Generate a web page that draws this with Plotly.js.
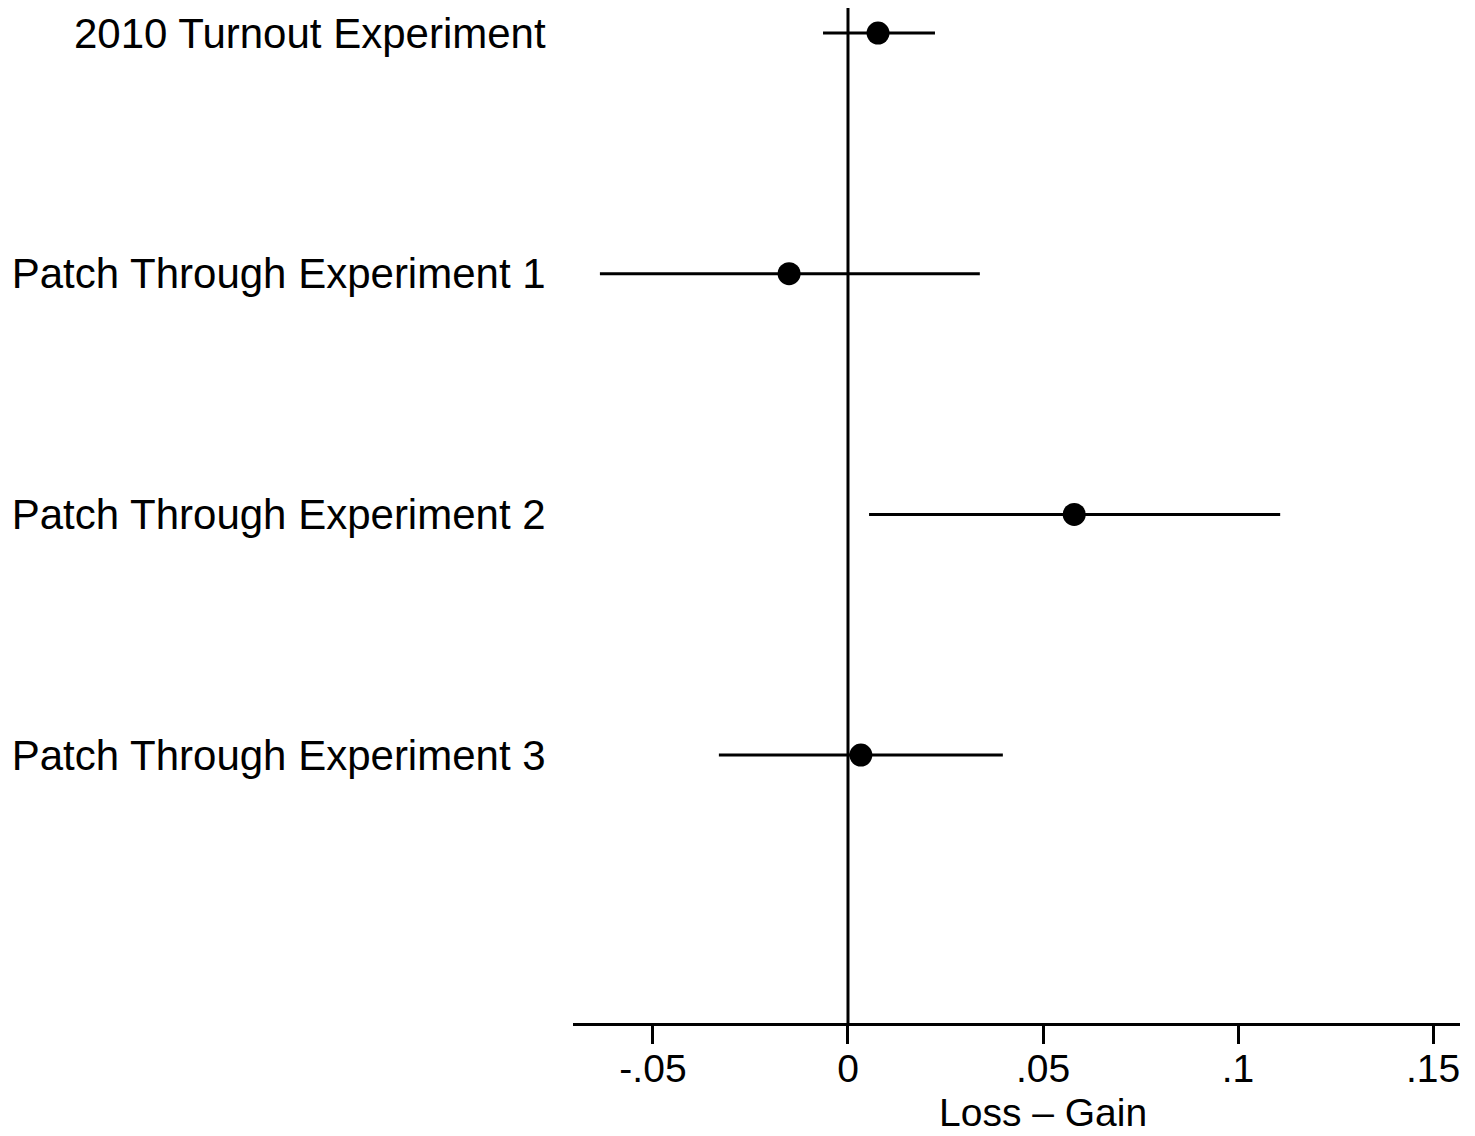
<!DOCTYPE html>
<html>
<head>
<meta charset="utf-8">
<script src="https://cdn.plot.ly/plotly-3.0.1.min.js"></script>
<style>html,body{margin:0;padding:0;background:#fff;}#chart{width:1475px;height:1136px;}</style>
</head>
<body>
<div id="chart"></div>
<script>
const categories = ["2010 Turnout Experiment", "Patch Through Experiment 1", "Patch Through Experiment 2", "Patch Through Experiment 3"];
const rowPos = [1, 2, 3, 4];
const estimates = [0.0077, -0.0151, 0.0580, 0.0033];
const ciLow = [-0.0064, -0.0636, 0.0054, -0.0331];
const ciHigh = [0.0223, 0.0338, 0.1108, 0.0397];
const xTickVals = [-0.05, 0, 0.05, 0.1, 0.15];
const xTickText = ["-.05", "0", ".05", ".1", ".15"];
const xTitle = "Loss \u2013 Gain";

const FONT = "Liberation Sans, Arial, Helvetica, sans-serif";

const trace = {
  type: "scatter",
  mode: "markers",
  x: estimates,
  y: rowPos,
  marker: {color: "#000", size: 23, line: {width: 0}},
  error_x: {
    type: "data",
    symmetric: false,
    array: estimates.map((e, i) => ciHigh[i] - e),
    arrayminus: estimates.map((e, i) => e - ciLow[i]),
    color: "#000",
    thickness: 3,
    width: 0
  },
  hoverinfo: "x+y",
  showlegend: false
};

const layout = {
  width: 1475,
  height: 1136,
  margin: {l: 573, r: 15, t: 8, b: 113},
  paper_bgcolor: "#fff",
  plot_bgcolor: "#fff",
  font: {family: FONT, color: "#000"},
  showlegend: false,
  xaxis: {
    range: [-0.0705, 0.1569],
    tickvals: xTickVals,
    ticktext: xTickText,
    ticks: "outside",
    ticklen: 18,
    tickwidth: 3,
    tickcolor: "#000",
    ticklabelstandoff: -9,
    showline: true,
    linecolor: "#000",
    linewidth: 3,
    showgrid: false,
    zeroline: false,
    tickfont: {size: 39, family: FONT, color: "#000"},
    fixedrange: true
  },
  yaxis: {
    range: [5.113, 0.896],
    tickvals: rowPos,
    ticktext: categories,
    ticks: "outside",
    ticklen: 18,
    tickcolor: "rgba(0,0,0,0)",
    showline: false,
    showgrid: false,
    zeroline: false,
    tickfont: {size: 42, family: FONT, color: "#000"},
    fixedrange: true
  },
  shapes: [{
    type: "line",
    xref: "x", yref: "paper",
    x0: 0, x1: 0, y0: 0, y1: 1,
    line: {color: "#000", width: 3},
    layer: "below"
  }],
  annotations: [{
    text: xTitle,
    xref: "paper", yref: "paper",
    x: 0.53, y: -0.0885,
    xanchor: "center", yanchor: "middle",
    showarrow: false,
    font: {size: 39, family: FONT, color: "#000"}
  }]
};

Plotly.newPlot("chart", [trace], layout, {displayModeBar: false, staticPlot: true});
</script>
</body>
</html>
